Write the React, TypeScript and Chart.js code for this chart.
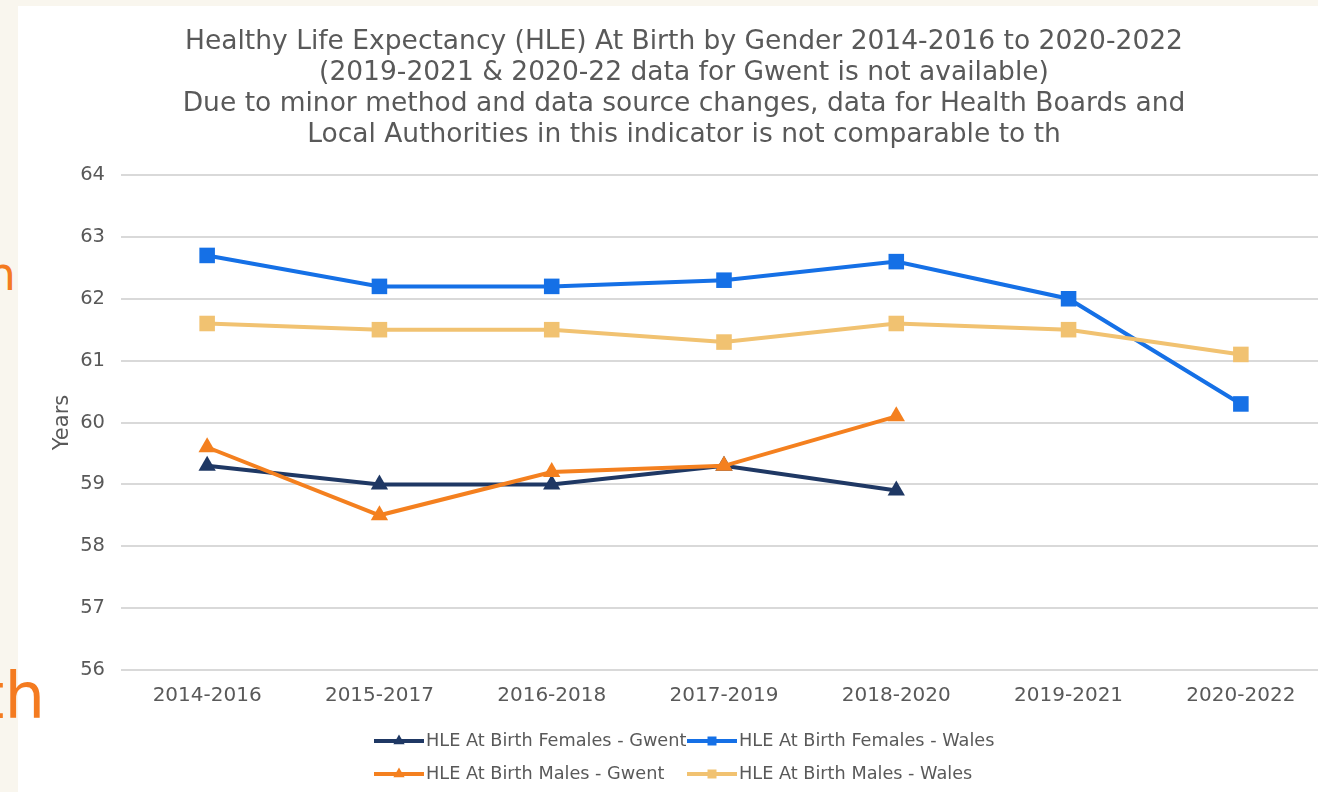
import React, { useEffect, useRef } from "react";
import { Chart, registerables } from "chart.js";

Chart.register(...registerables);

const categories = ["2014-2016", "2015-2017", "2016-2018", "2017-2019", "2018-2020", "2019-2021", "2020-2022"];
const femalesGwent = [59.3, 59.0, 59.0, 59.3, 58.9, null, null];
const femalesWales = [62.7, 62.2, 62.2, 62.3, 62.6, 62.0, 60.3];
const malesGwent = [59.6, 58.5, 59.2, 59.3, 60.1, null, null];
const malesWales = [61.6, 61.5, 61.5, 61.3, 61.6, 61.5, 61.1];

const seriesLabels = [
  "HLE At Birth Females - Gwent",
  "HLE At Birth Females - Wales",
  "HLE At Birth Males - Gwent",
  "HLE At Birth Males - Wales",
];

const titleLines = [
  "Healthy Life Expectancy (HLE) At Birth by Gender 2014-2016 to 2020-2022",
  "(2019-2021 & 2020-22 data for Gwent is not available)",
  "Due to minor method and data source changes, data for Health Boards and",
  "Local Authorities in this indicator is not comparable to th",
];

const yAxisTitle = "Years";
const yMin = 56;
const yMax = 64;
const yStep = 1;

const FONT = '"DejaVu Sans", Verdana, sans-serif';
const TEXT = "#595959";
const COLORS = ["#1F3864", "#1570E6", "#F4801F", "#F1C271"];
const STYLES = ["triangle", "rect", "triangle", "rect"];

const legendPlugin = {
  id: "gridLegend",
  afterDraw(chart: any) {
    const ctx = chart.ctx;
    const colX = [356, 669];
    const rowY = [735, 768];
    const sample = 50;
    ctx.save();
    chart.data.datasets.forEach((ds: any, i: number) => {
      const x = colX[i % 2];
      const y = rowY[Math.floor(i / 2)];
      ctx.strokeStyle = ds.borderColor;
      ctx.lineWidth = 4;
      ctx.beginPath();
      ctx.moveTo(x, y);
      ctx.lineTo(x + sample, y);
      ctx.stroke();
      ctx.fillStyle = ds.borderColor;
      const cx = x + sample / 2;
      ctx.beginPath();
      if (ds.pointStyle === "rect") {
        ctx.rect(cx - 4.5, y - 4.5, 9, 9);
      } else {
        const r = 6.5;
        ctx.moveTo(cx, y - r);
        ctx.lineTo(cx + r * 0.866, y + r * 0.5);
        ctx.lineTo(cx - r * 0.866, y + r * 0.5);
        ctx.closePath();
      }
      ctx.fill();
      ctx.fillStyle = TEXT;
      ctx.font = `17.7px ${FONT}`;
      ctx.textBaseline = "middle";
      ctx.textAlign = "left";
      ctx.fillText(ds.label, x + sample + 2, y);
    });
    ctx.restore();
  },
};

export default function App() {
  const ref = useRef<HTMLCanvasElement | null>(null);

  useEffect(() => {
    if (!ref.current) return;
    const series = [femalesGwent, femalesWales, malesGwent, malesWales];
    const orders = [3, 2, 1, 0];
    const chart = new Chart(ref.current, {
      type: "line",
      data: {
        labels: categories,
        datasets: series.map((d, i) => ({
          label: seriesLabels[i],
          data: d,
          borderColor: COLORS[i],
          backgroundColor: COLORS[i],
          borderWidth: 4,
          pointStyle: STYLES[i],
          pointRadius: STYLES[i] === "rect" ? 11 : 10,
          pointBorderWidth: 0,
          pointBackgroundColor: COLORS[i],
          spanGaps: false,
          tension: 0,
          order: orders[i],
        })),
      },
      options: {
        animation: false,
        responsive: false,
        maintainAspectRatio: false,
        layout: { padding: { left: 23, right: 13, top: 0, bottom: 85 } },
        plugins: {
          legend: { display: false },
          tooltip: { enabled: false },
          title: {
            display: true,
            text: titleLines,
            color: TEXT,
            font: { family: FONT, size: 26.5, weight: "normal", lineHeight: 31 / 26.5 },
            padding: { top: 20.5, bottom: 24.5 },
          },
        },
        scales: {
          x: {
            offset: true,
            grid: { display: false, drawTicks: false },
            border: { display: false },
            ticks: {
              color: TEXT,
              font: { family: FONT, size: 20 },
              padding: 14,
              maxRotation: 0,
              autoSkip: false,
            },
            afterFit: (s: any) => {
              s.height = 37;
            },
          },
          y: {
            min: yMin,
            max: yMax,
            ticks: {
              stepSize: yStep,
              color: TEXT,
              font: { family: FONT, size: 19.5 },
              padding: 16,
            },
            grid: { color: "#D9D9D9", lineWidth: 2, drawTicks: false },
            border: { display: false },
            title: {
              display: true,
              text: yAxisTitle,
              color: TEXT,
              font: { family: FONT, size: 21 },
              padding: { top: 9, bottom: 0 },
            },
            afterFit: (s: any) => {
              s.width = 80;
            },
          },
        },
      },
      plugins: [legendPlugin],
    });
    return () => chart.destroy();
  }, []);

  return (
    <div
      style={{
        position: "fixed",
        left: 0,
        top: 0,
        width: 1318,
        height: 792,
        overflow: "hidden",
        background: "#F9F6EE",
      }}
    >
      <div
        style={{
          position: "absolute",
          left: 18,
          top: 6,
          width: 1340,
          height: 800,
          background: "#FFFFFF",
        }}
      >
        <canvas ref={ref} width={1322} height={786} style={{ display: "block", width: 1322, height: 786 }} />
      </div>
      <div
        style={{
          position: "absolute",
          right: 1302,
          top: 251,
          fontFamily: FONT,
          fontSize: 46,
          lineHeight: "46px",
          color: "#F47B20",
          whiteSpace: "nowrap",
        }}
      >
        n
      </div>
      <div
        style={{
          position: "absolute",
          right: 1273,
          top: 664,
          fontFamily: FONT,
          fontSize: 64,
          lineHeight: "64px",
          color: "#F47B20",
          whiteSpace: "nowrap",
        }}
      >
        th
      </div>
    </div>
  );
}
